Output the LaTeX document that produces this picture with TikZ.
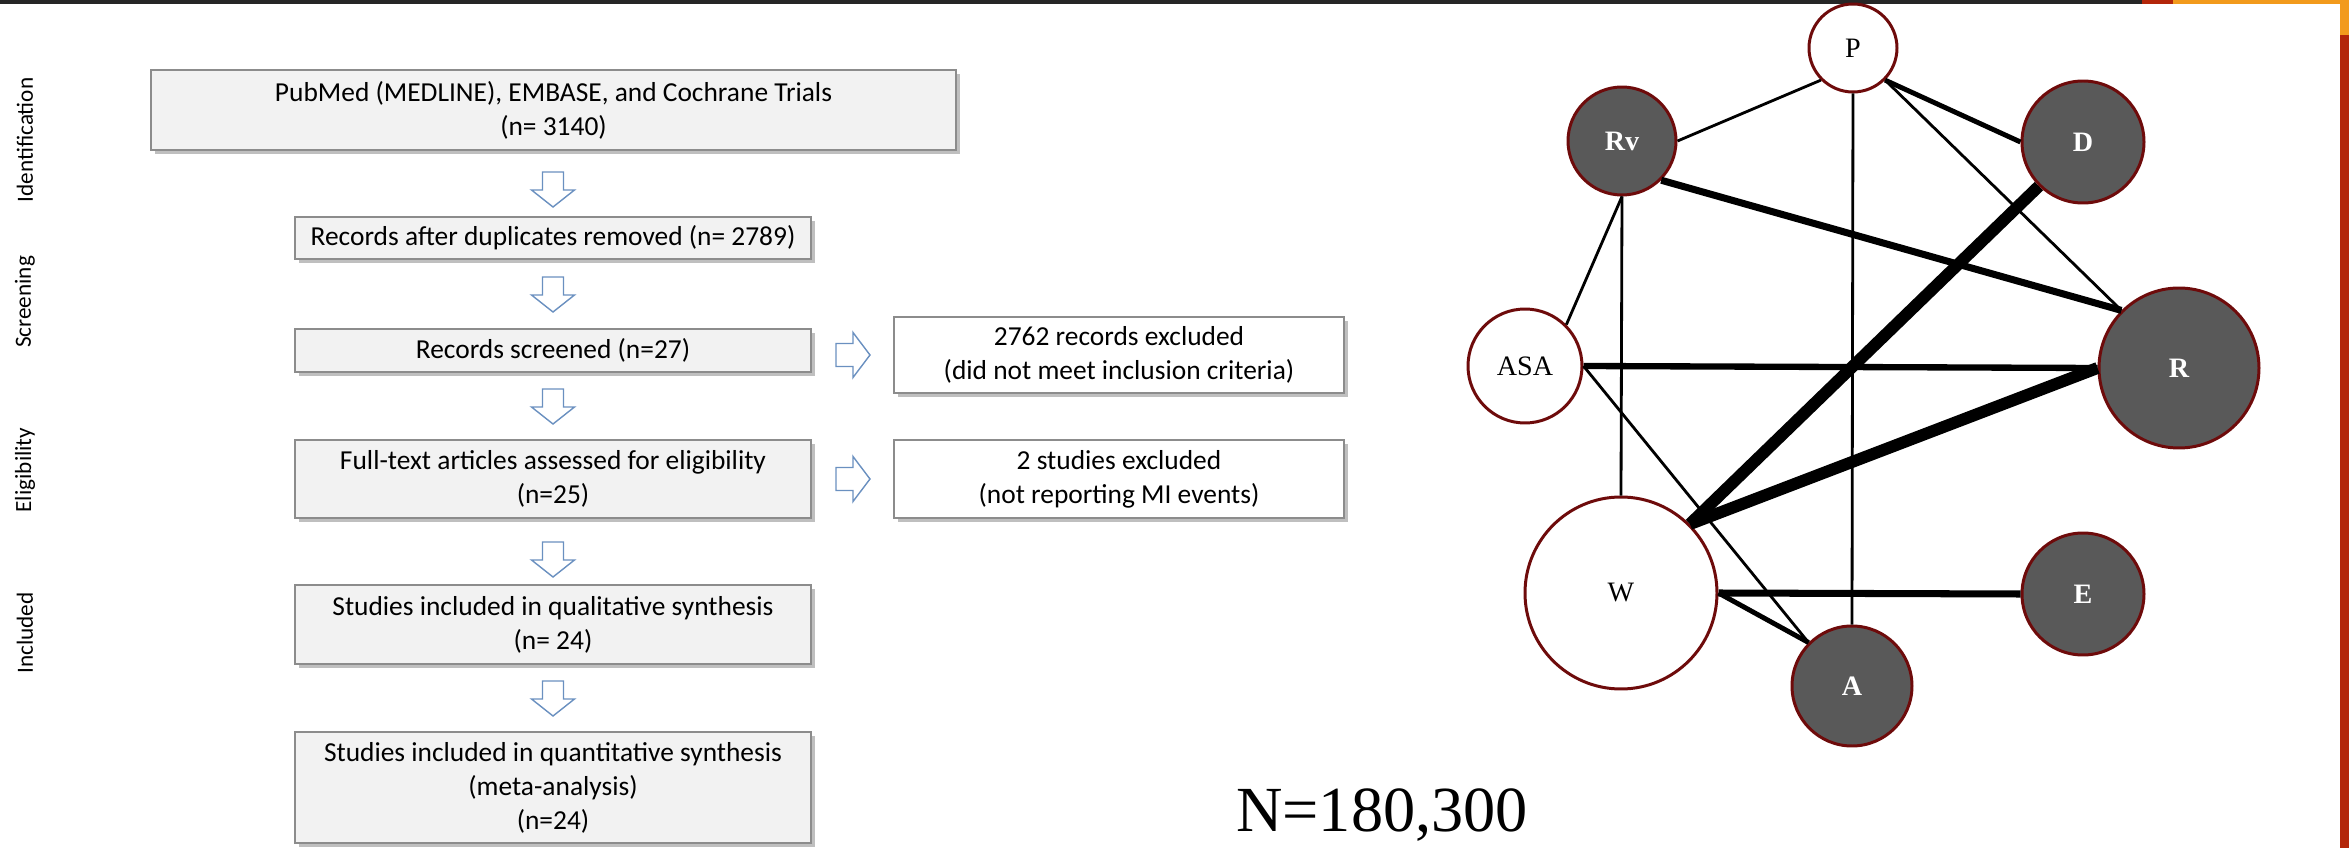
\documentclass[tikz,border=0pt]{standalone}
\usepackage{fontspec}
\setmainfont{Carlito}
\newfontfamily\timesfont{Liberation Serif}
\usetikzlibrary{shadows}
\definecolor{boxgray}{HTML}{F2F2F2}
\definecolor{edgegray}{HTML}{8C8C8C}
\definecolor{arrowblue}{HTML}{6A90C0}
\definecolor{maroon}{HTML}{6E0B0B}
\definecolor{nodegray}{HTML}{595959}
\definecolor{topdark}{HTML}{262626}
\definecolor{topred}{HTML}{B3260A}
\definecolor{toporange}{HTML}{F29A1C}

\begin{document}
\begin{tikzpicture}[x=0.1mm,y=-0.1mm]
\tikzstyle{stage}=[rotate=90, inner sep=0pt, font=\fontsize{6.6}{8}\selectfont]
\tikzstyle{flow}=[draw=edgegray, line width=0.4pt, fill=boxgray, align=center, inner sep=0pt, font=\fontsize{7.8}{9.7}\selectfont, drop shadow={shadow xshift=1pt, shadow yshift=-1pt, fill=black!50, opacity=.5}]
\tikzstyle{excl}=[flow, fill=white]
\tikzstyle{blockarr}=[draw=arrowblue, line width=0.4pt, fill=white, line join=miter]
\tikzstyle{drug}=[circle, draw=maroon, line width=0.85pt, inner sep=0pt, font=\timesfont\fontsize{8}{9}\selectfont]
\tikzstyle{whitedrug}=[drug, fill=white, text=black]
\tikzstyle{darkdrug}=[drug, fill=nodegray, text=white, font=\timesfont\bfseries\fontsize{8}{9}\selectfont]
\useasboundingbox (0,0) rectangle (2349,848);

% slide frame
\fill[topdark] (0,0) rectangle (2142,4);
\fill[topred] (2142,0) rectangle (2173,4);
\fill[toporange] (2173,0) rectangle (2349,4);
\fill[toporange] (2340,0) rectangle (2349,35);
\fill[topred] (2340,35) rectangle (2349,848);

% stages
\node[stage] (sid) at (25,140) {Identification};
\node[stage] (ssc) at (25,302) {Screening};
\node[stage] (sel) at (25,470) {Eligibility};
\node[stage] (sin) at (25,633) {Included};

% flow boxes
\node[flow, minimum width=80.5mm, minimum height=8mm] (ident) at (553.5,110) {PubMed (MEDLINE), EMBASE, and Cochrane Trials\\(n= 3140)};
\node[flow, minimum width=51.6mm, minimum height=4.2mm] (dupl) at (553,238) {Records after duplicates removed (n= 2789)};
\node[flow, minimum width=51.6mm, minimum height=4.3mm] (screen) at (553,350.5) {Records screened (n=27)};
\node[excl, minimum width=45mm, minimum height=7.6mm] (excl1) at (1119,355) {2762 records excluded\\(did not meet inclusion criteria)};
\node[flow, minimum width=51.6mm, minimum height=7.8mm] (full) at (553,479) {Full-text articles assessed for eligibility\\(n=25)};
\node[excl, minimum width=45mm, minimum height=7.8mm] (excl2) at (1119,479) {2 studies excluded\\(not reporting MI events)};
\node[flow, minimum width=51.6mm, minimum height=7.9mm] (qual) at (553,624.5) {Studies included in qualitative synthesis\\(n= 24)};
\node[flow, minimum width=51.6mm, minimum height=11.1mm] (quant) at (553,787.5) {Studies included in quantitative synthesis\\(meta-analysis)\\(n=24)};

% block arrows
\foreach \y in {172,277,389,542,681}
    \draw[blockarr] (542.5,\y) -- (563.5,\y) -- (563.5,\y+18) -- (574.5,\y+18) -- (553,\y+35) -- (531.5,\y+18) -- (542.5,\y+18) -- cycle;
\foreach \y in {355,479}
    \draw[blockarr] (836,\y-11.5) -- (853,\y-11.5) -- (853,\y-22.5) -- (870,\y) -- (853,\y+22.5) -- (853,\y+11.5) -- (836,\y+11.5) -- cycle;

% network
\node[whitedrug, minimum size=8.8mm] (P) at (1853,48) {P};
\node[darkdrug, minimum size=10.8mm] (Rv) at (1622,141) {Rv};
\node[darkdrug, minimum size=12.2mm] (D) at (2083,142) {D};
\node[whitedrug, minimum size=11.4mm] (ASA) at (1525,366) {ASA};
\node[darkdrug, minimum size=16mm] (R) at (2179,368) {R};
\node[whitedrug, minimum size=19.2mm] (W) at (1621,593) {W};
\node[darkdrug, minimum size=12.2mm] (E) at (2083,594) {E};
\node[darkdrug, minimum size=12mm] (A) at (1852,686) {A};
\foreach \from/\to/\w in {P.south west/Rv.east/0.8, P.south east/D.west/1.4, P.south east/R.north west/0.8,
        P.south/A.north/0.8, Rv.south/ASA.45/0.8, Rv.south/W.north/0.8, Rv.south east/R.north west/2,
        D.south west/W.north east/3.4, ASA.east/R.west/1.8, ASA.east/A.north west/0.8,
        R.west/W.north east/3.4, W.east/E.west/2, W.east/A.north west/1.4}
    \draw[line width=\w pt] (\from) -- (\to);

\node[font=\timesfont\fontsize{18.3}{20}\selectfont, anchor=base, inner sep=0pt] (total) at (1382,831) {N=180,300};
\end{tikzpicture}
\end{document}
